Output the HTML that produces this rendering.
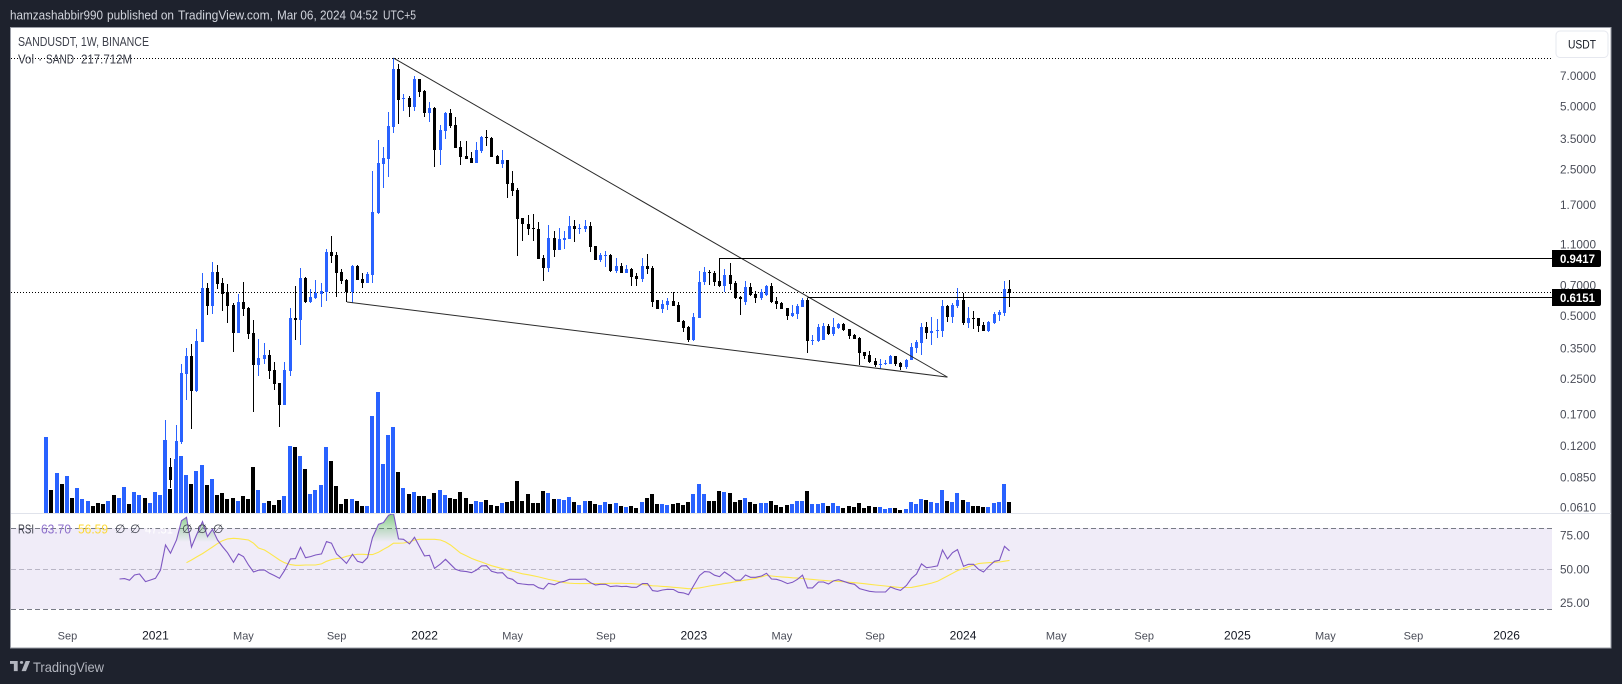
<!DOCTYPE html>
<html lang="en">
<head>
<meta charset="utf-8">
<title>SANDUSDT weekly chart</title>
<style>
html,body{margin:0;padding:0;background:#1e222d;width:1622px;height:684px;overflow:hidden}
svg{display:block}
text{font-family:"Liberation Sans","DejaVu Sans",sans-serif}
</style>
</head>
<body>
<svg id="chart" xmlns="http://www.w3.org/2000/svg" width="1622" height="684" viewBox="0 0 1622 684">
  <defs>
    <clipPath id="clip-main"><rect x="11" y="28" width="1541" height="485"/></clipPath>
    <clipPath id="clip-rsi"><rect x="11" y="514" width="1541" height="108"/></clipPath>
    <linearGradient id="ob-gradient" gradientUnits="userSpaceOnUse" x1="0" x2="0" y1="502" y2="542">
      <stop offset="0" stop-color="#4caf50" stop-opacity="0.95"/>
      <stop offset="1" stop-color="#4caf50" stop-opacity="0"/>
    </linearGradient>
  </defs>
  <rect x="0" y="0" width="1622" height="684" fill="#1e222d"/>
  <g font-size="13" fill="#d1d4dc">
    <text x="10" y="19.5" textLength="93" lengthAdjust="spacingAndGlyphs">hamzashabbir990</text>
    <text x="107" y="19.5" textLength="67" lengthAdjust="spacingAndGlyphs">published on</text>
    <text x="178" y="19.5" textLength="95" lengthAdjust="spacingAndGlyphs">TradingView.com,</text>
    <text x="277" y="19.5" textLength="69" lengthAdjust="spacingAndGlyphs">Mar 06, 2024</text>
    <text x="350" y="19.5" textLength="28" lengthAdjust="spacingAndGlyphs">04:52</text>
    <text x="383" y="19.5" textLength="33" lengthAdjust="spacingAndGlyphs">UTC+5</text>
  </g>
  <rect x="10.5" y="27.5" width="1600.5" height="620.5" fill="#ffffff" stroke="#9a9da6" stroke-width="1"/>
  <rect x="11" y="528" width="1541" height="81" fill="#f0ecf8"/>
  <g id="layer-volume" clip-path="url(#clip-main)"></g>
  <g id="layer-guides"></g>
  <g id="layer-candles" clip-path="url(#clip-main)"></g>
  <g id="layer-drawings" clip-path="url(#clip-main)"></g>
  <line x1="11" x2="1611" y1="513.5" y2="513.5" stroke="#e0e3eb" stroke-width="1"/>
  <g id="layer-rsi" clip-path="url(#clip-rsi)"></g>
  <g id="layer-yaxis"></g>
  <g id="layer-xaxis"></g>
  <g id="layer-tags"></g>

  <text x="18" y="46" font-size="13" fill="#3c3f4a" textLength="131" lengthAdjust="spacingAndGlyphs">SANDUSDT, 1W, BINANCE</text>
  <g font-size="13" fill="#3c3f4a">
    <text x="18" y="63.5" textLength="16" lengthAdjust="spacingAndGlyphs">Vol</text>
    <text x="38" y="63.5">·</text>
    <text x="46" y="63.5" textLength="28" lengthAdjust="spacingAndGlyphs">SAND</text>
    <text x="81" y="63.5" textLength="51" lengthAdjust="spacingAndGlyphs">217.712M</text>
  </g>

  <g font-size="13">
    <text x="18" y="533.5" fill="#3c3f4a" textLength="16" lengthAdjust="spacingAndGlyphs">RSI</text>
    <text x="41" y="533.5" fill="#8d6fcb" textLength="30" lengthAdjust="spacingAndGlyphs">63.70</text>
    <text x="78" y="533.5" fill="#fdd835" textLength="30" lengthAdjust="spacingAndGlyphs">56.59</text>
    <text x="115" y="533" font-size="12" fill="#3c3f4a">∅</text>
    <text x="130" y="533" font-size="12" fill="#3c3f4a">∅</text>
    <text x="145" y="533.5" fill="#ffffff" textLength="28" lengthAdjust="spacingAndGlyphs">47.51</text>
    <text x="182" y="533" font-size="12" fill="#3c3f4a">∅</text>
    <text x="197" y="533" font-size="12" fill="#3c3f4a">∅</text>
    <text x="213" y="533" font-size="12" fill="#3c3f4a">∅</text>
  </g>

  <g>
    <rect x="1556" y="31" width="52" height="26.5" rx="4" fill="#ffffff" stroke="#e6e8ef"/>
    <text x="1582" y="48.5" font-size="12" fill="#131722" text-anchor="middle" textLength="28" lengthAdjust="spacingAndGlyphs">USDT</text>
  </g>

  <g>
    <path transform="translate(10 658.3) scale(.55 .46)" fill="#b2b5be" d="M14 6H0v6h7v16h7V6Zm15 22h-8l7.5-22h8L29 28Zm-8-16a3 3 0 1 0 0-6 3 3 0 0 0 0 6Z"/>
    <text x="33" y="672" font-size="14" fill="#b2b5be" textLength="71" lengthAdjust="spacingAndGlyphs">TradingView</text>
  </g>
</svg>

<script>
// ---------- data ----------
const firstCandleWeek = 23;
const opens = [.0626,.0950,.0824,.125,.264,.322,.219,.375,.679,.557,.810,.718,.650,.563,.414,.582,.545,.414,.291,.311,.325,.276,.239,.188,.273,.488,.478,.758,.582,.608,.636,.650,1.009,.976,.810,.742,.650,.865,.750,.718,.783,1.548,2.653,2.803,3.983,7.535,5.419,5.479,4.962,6.751,5.917,4.646,4.908,3.094,3.812,4.646,4.072,3.197,2.897,2.834,2.682,3.060,3.569,3.530,2.897,2.653,2.772,2.153,1.994,1.466,1.372,1.313,1.299,.944,.846,1.177,1.031,1.151,1.164,1.342,1.299,1.299,1.342,1.078,.924,.965,.976,.819,.865,.801,.837,.775,.750,.865,.846,.595,.539,.563,.589,.563,.473,.442,.384,.488,.726,.810,.801,.734,.694,.783,.718,.615,.582,.687,.636,.608,.629,.694,.589,.576,.545,.499,.510,.551,.595,.379,.379,.384,.447,.410,.438,.457,.433,.405,.392,.336,.325,.305,.291,.295,.295,.322,.298,.285,.308,.351,.371,.442,.414,.423,.423,.557,.494,.557,.595,.462,.488,.488,.452,.423,.462,.505,.516,.672];
const highs = [.159,.1049,.151,.295,.351,.367,.433,.801,.718,.904,.874,.758,.710,.576,.636,.726,.551,.478,.388,.371,.344,.301,.239,.301,.545,.694,.846,.766,.672,.742,.718,1.043,1.203,1.009,.837,.750,.874,.874,.801,.810,2.457,3.453,3.197,4.697,8.50,7.961,5.725,5.600,6.977,6.751,5.982,5.243,4.962,4.072,4.697,4.855,4.446,3.415,3.415,3.027,3.378,3.608,3.854,3.569,2.929,3.094,2.772,2.457,2.038,1.466,1.515,1.531,1.403,.976,1.357,1.271,1.313,1.271,1.498,1.434,1.372,1.434,1.403,1.078,.998,1.020,.987,.944,.894,.874,.846,.801,.944,.987,.865,.595,.595,.608,.650,.582,.478,.447,.516,.819,.855,.828,.819,.9417,.837,.894,.734,.622,.734,.718,.657,.672,.702,.718,.615,.582,.545,.563,.570,.608,.608,.405,.457,.462,.457,.488,.462,.462,.433,.410,.396,.336,.340,.315,.311,.308,.325,.322,.301,.311,.371,.384,.462,.467,.494,.483,.595,.563,.576,.679,.643,.551,.527,.488,.467,.473,.522,.533,.734,.742];
const lows = [.0606,.0754,.0789,.1223,.198,.144,.217,.375,.505,.510,.672,.527,.462,.336,.414,.499,.388,.1745,.258,.295,.250,.221,.148,.188,.258,.384,.363,.576,.576,.602,.551,.589,.894,.615,.710,.582,.576,.742,.679,.718,.718,1.531,2.038,2.300,3.729,4.117,4.749,4.446,4.749,5.539,4.446,4.208,2.567,2.624,3.491,3.940,3.162,2.624,2.803,2.682,2.682,2.994,3.232,2.865,2.653,2.539,1.826,1.867,.965,1.139,1.216,1.139,.934,.734,.810,.955,1.031,1.043,1.164,1.126,1.229,1.257,1.009,.924,.904,.855,.810,.801,.801,.801,.694,.694,.726,.792,.551,.539,.516,.533,.557,.467,.419,.375,.379,.488,.702,.702,.694,.687,.650,.664,.602,.505,.563,.622,.576,.595,.622,.576,.539,.539,.478,.494,.483,.551,.333,.363,.375,.384,.405,.401,.433,.423,.388,.388,.291,.311,.298,.285,.279,.291,.295,.288,.276,.279,.308,.333,.325,.388,.363,.392,.396,.467,.462,.545,.452,.438,.433,.419,.423,.419,.457,.473,.499,.551];
const closes = [.0950,.0824,.1264,.267,.322,.219,.379,.679,.557,.810,.710,.636,.557,.414,.582,.539,.410,.291,.315,.325,.273,.237,.188,.276,.488,.478,.758,.582,.615,.643,.657,1.009,.965,.801,.734,.650,.865,.742,.718,.792,1.565,2.682,2.834,4.027,7.535,5.359,5.479,4.962,6.751,5.852,4.646,4.908,3.094,3.854,4.646,4.027,3.162,2.865,2.803,2.682,3.094,3.569,3.530,2.865,2.653,2.772,2.130,1.972,1.450,1.372,1.299,1.299,.934,.846,1.177,1.031,1.164,1.177,1.342,1.299,1.313,1.342,1.066,.924,.976,.976,.819,.865,.801,.837,.766,.750,.865,.837,.582,.539,.570,.589,.557,.467,.438,.384,.494,.726,.810,.801,.726,.694,.783,.710,.608,.602,.687,.629,.608,.650,.694,.582,.570,.539,.499,.516,.557,.595,.379,.384,.442,.447,.410,.442,.457,.428,.401,.388,.333,.322,.301,.291,.295,.298,.322,.295,.285,.308,.355,.375,.442,.414,.423,.428,.557,.494,.563,.595,.462,.488,.483,.447,.423,.467,.510,.522,.672,.643];

const volumes = [1511,462,799,581,739,304,502,284,244,145,205,185,244,363,304,521,185,422,363,304,205,422,363,1452,482,1076,1135,759,581,838,957,561,680,363,403,284,304,244,343,284,917,462,205,244,165,264,343,1333,1313,1135,878,383,462,561,1313,1036,541,185,284,284,244,145,145,1927,2402,977,1551,1709,818,502,383,422,343,343,284,403,462,363,304,284,422,304,185,244,224,264,165,145,198,218,238,634,238,376,198,198,436,396,277,277,257,317,218,158,238,238,178,158,218,178,198,139,119,139,99,218,297,376,178,178,158,178,198,158,218,376,574,376,238,238,436,416,396,218,257,297,218,178,198,198,238,158,119,158,178,238,238,436,178,178,198,139,198,139,99,139,119,198,99,139,119,119,79,99,99,59,79,218,178,277,257,218,198,455,238,218,396,257,218,139,139,119,119,198,218,574,217.712];
const earlyVolumeUp = [1,0,1,0,1,0,1,1,1,0,0,0,1,0,1,1,0,1,1,0,1,1,1];

const firstRsiWeek = 14;
const rsiValues = [42.8,43.1,41.9,45.8,46.5,40.9,42.1,43.3,49.5,68.0,61.9,71.7,86.0,88.5,66.5,75.4,85.3,74.2,79.6,71.7,66.8,62.3,55.2,61.4,59.4,53.2,48.0,49.3,49.5,47.0,45.3,43.3,49.0,57.7,57.9,66.3,58.6,59.4,60.6,61.4,70.5,69.3,61.4,58.1,54.4,61.1,55.9,54.9,58.6,73.5,83.3,84.6,90.0,91.5,72.5,72.2,68.8,73.7,66.8,59.9,60.4,50.7,54.0,57.4,53.7,50.0,48.8,48.3,47.5,49.5,52.5,52.7,48.5,47.3,47.5,43.6,42.6,39.6,39.1,38.6,38.6,36.4,35.4,39.6,38.6,40.4,41.1,42.6,42.6,42.6,42.8,40.1,38.4,38.9,38.9,37.2,37.7,37.2,37.4,36.7,36.7,39.4,39.4,34.2,33.7,34.7,35.2,35.0,33.0,32.5,31.2,37.7,45.3,48.3,48.0,45.6,44.6,48.0,45.0,41.9,41.9,45.8,44.1,44.1,45.0,47.0,42.8,42.6,41.4,39.4,40.4,42.6,45.6,36.2,36.2,40.6,40.6,39.1,41.4,42.3,41.1,39.6,38.9,35.7,34.7,33.7,33.2,33.2,33.2,36.9,35.4,34.4,38.1,43.3,46.5,54.0,51.2,51.7,52.5,64.3,57.7,62.3,64.6,52.2,53.7,53.7,50.0,48.0,52.0,55.9,56.7,67.0,63.7];

const firstRsiMaWeek = 27;
const rsiMaValues = [54.9,56.9,59.1,61.6,64.1,66.5,69.0,71.2,72.5,73.0,72.7,72.2,71.7,69.3,65.8,64.3,61.9,59.4,56.9,54.9,53.5,53.0,53.0,53.2,53.2,53.2,54.0,55.9,57.2,57.9,58.4,59.6,60.6,61.1,61.1,60.9,60.9,62.6,64.8,66.8,69.3,69.3,69.5,70.2,71.7,72.2,72.2,72.2,72.2,71.7,70.2,68.0,65.1,62.1,59.9,58.1,56.7,55.4,54.0,52.7,51.5,50.5,49.6,48.6,47.6,46.7,45.9,45.2,44.4,43.5,42.5,41.6,40.8,40.1,39.7,39.5,39.4,39.4,39.4,39.4,39.4,39.5,39.6,39.6,39.6,39.5,39.4,39.1,38.8,38.3,37.8,37.6,37.3,37.1,36.7,36.4,36.0,35.6,35.7,36.2,36.9,37.6,38.2,38.8,39.4,40.1,40.8,41.4,42.0,42.6,43.3,44.4,45.5,45.0,44.7,44.4,44.1,43.7,43.5,43.2,42.8,42.5,42.1,41.8,41.5,41.3,41.0,40.8,40.4,40.1,39.7,39.3,38.9,38.4,38.0,37.6,37.2,36.8,36.5,36.5,36.6,37.3,38.1,38.9,39.8,41.1,43.1,45.0,47.0,49.0,50.6,51.9,53.1,54.2,54.6,54.9,55.2,55.4,56.0,56.59];

const priceTicks = [7,5,3.5,2.5,1.7,1.1,.7,.5,.35,.25,.17,.12,.085,.061];
const priceTickLabels = ['7.0000','5.0000','3.5000','2.5000','1.7000','1.1000','0.7000','0.5000','0.3500','0.2500','0.1700','0.1200','0.0850','0.0610'];
const rsiTicks = [75,50,25];
const rsiTickLabels = ['75.00','50.00','25.00'];
const rsiLevels = [80,50,20];
const timeTickWeeks = [4,21,38,56,73,90,108,125,142,160,177,195,212,230,247,264,282];
const timeTickLabels = ['Sep','2021','May','Sep','2022','May','Sep','2023','May','Sep','2024','May','Sep','2025','May','Sep','2026'];

const upperTrendWeeks = [67,174];
const upperTrendPrices = [8.5,.255];
const lowerTrendWeeks = [58,174];
const lowerTrendPrices = [.582,.255];
const rayWeeks = [130,147];
const rayPrices = [.9417,.6151];
const rayLabels = ['0.9417','0.6151'];
const dottedPrices = [8.5,.648];

// ---------- axis functions ----------
const PLOT_RIGHT = 1552;
const VOLUME_BASE = 513;
const xOf = w => 46.7 + 5.177 * w;
const cx = w => Math.floor(xOf(w)) + 0.5;
const yOfPrice = p => 75.7 + 91 * Math.log(7 / p);
const yOfVolume = v => VOLUME_BASE - v / 19.8;
const yOfRsi = v => 569.3 - (v - 50) * 1.35;

const NS = 'http://www.w3.org/2000/svg';
function make(tag, parent, props) {
  const node = document.createElementNS(NS, tag);
  for (const key in props) node.setAttribute(key, props[key]);
  parent.appendChild(node);
  return node;
}

const BLUE = '#2962ff';
const BLACK = '#000000';

// ---------- volume ----------
const volumeLayer = document.getElementById('layer-volume');
volumes.forEach((v, w) => {
  const c = w - firstCandleWeek;
  const up = c < 0 ? earlyVolumeUp[w] === 1 : closes[c] >= opens[c];
  const top = Math.round(yOfVolume(v));
  const el = make('rect', volumeLayer, {x: Math.floor(xOf(w)) - 2, y: top, width: 4, height: VOLUME_BASE - top, fill: up ? BLUE : BLACK, 'shape-rendering': 'crispEdges'});
  
  
});

// ---------- dotted price guides ----------
const guideLayer = document.getElementById('layer-guides');
dottedPrices.forEach(p => {
  const y = Math.floor(yOfPrice(p)) + 0.5;
  const el = make('line', guideLayer, {x1: 11, x2: PLOT_RIGHT, y1: y, y2: y, stroke: '#000', 'stroke-width': 1, 'stroke-dasharray': '1 2', 'shape-rendering': 'crispEdges'});
  
  
});

// ---------- candles ----------
const candleLayer = document.getElementById('layer-candles');
opens.forEach((o, c) => {
  const w = c + firstCandleWeek;
  const color = closes[c] >= o ? BLUE : BLACK;
  const x = cx(w);
  const bodyTop = Math.round(yOfPrice(Math.max(o, closes[c])));
  const bodyBot = Math.round(yOfPrice(Math.min(o, closes[c])));
  const wickTop = Math.round(yOfPrice(highs[c]));
  const wickBot = Math.round(yOfPrice(lows[c]));
  const wick = make('rect', candleLayer, {x: x - 0.5, y: wickTop, width: 1, height: Math.max(1, wickBot - wickTop), fill: color, 'shape-rendering': 'crispEdges'});
  
  
  const body = make('rect', candleLayer, {x: x - 1.5, y: bodyTop, width: 3, height: Math.max(1, bodyBot - bodyTop), fill: color, 'shape-rendering': 'crispEdges'});
  
  
});

// ---------- drawings ----------
const drawingLayer = document.getElementById('layer-drawings');
const upperLine = make('line', drawingLayer, {x1: xOf(upperTrendWeeks[0]), y1: yOfPrice(upperTrendPrices[0]), x2: xOf(upperTrendWeeks[1]), y2: yOfPrice(upperTrendPrices[1]), stroke: '#2a2a2a', 'stroke-width': 1});


const lowerLine = make('line', drawingLayer, {x1: xOf(lowerTrendWeeks[0]), y1: yOfPrice(lowerTrendPrices[0]), x2: xOf(lowerTrendWeeks[1]), y2: yOfPrice(lowerTrendPrices[1]), stroke: '#2a2a2a', 'stroke-width': 1});



const tagLayer = document.getElementById('layer-tags');
rayWeeks.forEach((w, k) => {
  const y = Math.floor(yOfPrice(rayPrices[k])) + 0.5;
  const ray = make('line', drawingLayer, {x1: cx(w), x2: PLOT_RIGHT, y1: y, y2: y, stroke: '#000', 'stroke-width': 1, 'shape-rendering': 'crispEdges'});
  
  
});

// ---------- RSI pane ----------
const rsiLayer = document.getElementById('layer-rsi');
rsiLevels.forEach((lv, k) => {
  const y = Math.floor(yOfRsi(lv)) + 0.5;
  const lvl = make('line', rsiLayer, {x1: 11, x2: PLOT_RIGHT, y1: y, y2: y, stroke: k === 1 ? '#b9b6c6' : '#787b86', 'stroke-width': 1, 'stroke-dasharray': '5 3', 'shape-rendering': 'crispEdges'});
  
  
});

// overbought gradient area: everything the RSI spends above 70
const OB_LEVEL = 70;
let obPts = [];
function flushOb() {
  if (obPts.length > 2) {
    const area = make('polygon', rsiLayer, {points: obPts.map(p => p[0].toFixed(1) + ',' + p[1].toFixed(1)).join(' '), fill: 'url(#ob-gradient)'});
    
    
  }
  obPts = [];
}
rsiValues.forEach((v, k) => {
  const w = k + firstRsiWeek;
  const prev = k > 0 ? rsiValues[k - 1] : v;
  if ((prev < OB_LEVEL) !== (v < OB_LEVEL) && k > 0) {
    const t = (OB_LEVEL - prev) / (v - prev);
    const crossX = cx(w - 1) + (cx(w) - cx(w - 1)) * t;
    obPts.push([crossX, yOfRsi(OB_LEVEL)]);
    if (v < OB_LEVEL) flushOb();
  }
  if (v >= OB_LEVEL) obPts.push([cx(w), yOfRsi(v)]);
});
flushOb();

const rsiMaLine = make('polyline', rsiLayer, {points: rsiMaValues.map((v, k) => cx(k + firstRsiMaWeek) + ',' + yOfRsi(v).toFixed(1)).join(' '), fill: 'none', stroke: '#fde74c', 'stroke-width': 1.1});


const rsiLine = make('polyline', rsiLayer, {points: rsiValues.map((v, k) => cx(k + firstRsiWeek) + ',' + yOfRsi(v).toFixed(1)).join(' '), fill: 'none', stroke: '#7e57c2', 'stroke-width': 1.1});



// ---------- axes ----------
const yAxisLayer = document.getElementById('layer-yaxis');
priceTicks.forEach((p, k) => {
  const t = make('text', yAxisLayer, {x: 1560, y: yOfPrice(p) + 4.3, 'font-size': 12, fill: '#4a4d58', textLength: 36, lengthAdjust: 'spacingAndGlyphs'});
  t.textContent = priceTickLabels[k];
  
  
});
rsiTicks.forEach((v, k) => {
  const t = make('text', yAxisLayer, {x: 1560, y: yOfRsi(v) + 4, 'font-size': 12, fill: '#4a4d58', textLength: 29.5, lengthAdjust: 'spacingAndGlyphs'});
  t.textContent = rsiTickLabels[k];
  
  
});

const xAxisLayer = document.getElementById('layer-xaxis');
timeTickWeeks.forEach((w, k) => {
  const isYear = /^\d+$/.test(timeTickLabels[k]);
  const t = make('text', xAxisLayer, {x: xOf(w), y: 639.5, 'font-size': isYear ? 12 : 11, fill: isYear ? '#131722' : '#4a4d58', 'text-anchor': 'middle'});
  t.textContent = timeTickLabels[k];
  
  
});

// ---------- price tags on top of the axis labels ----------
rayPrices.forEach((p, k) => {
  const y = yOfPrice(p);
  const top = Math.round(y - 8.5);
  const box = make('path', tagLayer, {d: 'M1552 ' + top + 'H1599a2 2 0 0 1 2 2V' + (top + 15) + 'a2 2 0 0 1 -2 2H1552Z', fill: '#000000'});
  
  
  const t = make('text', tagLayer, {x: 1560, y: top + 13, 'font-size': 12, 'font-weight': 700, fill: '#ffffff', textLength: 35, lengthAdjust: 'spacingAndGlyphs'});
  t.textContent = rayLabels[k];
  
  
});
</script>
</body>
</html>
